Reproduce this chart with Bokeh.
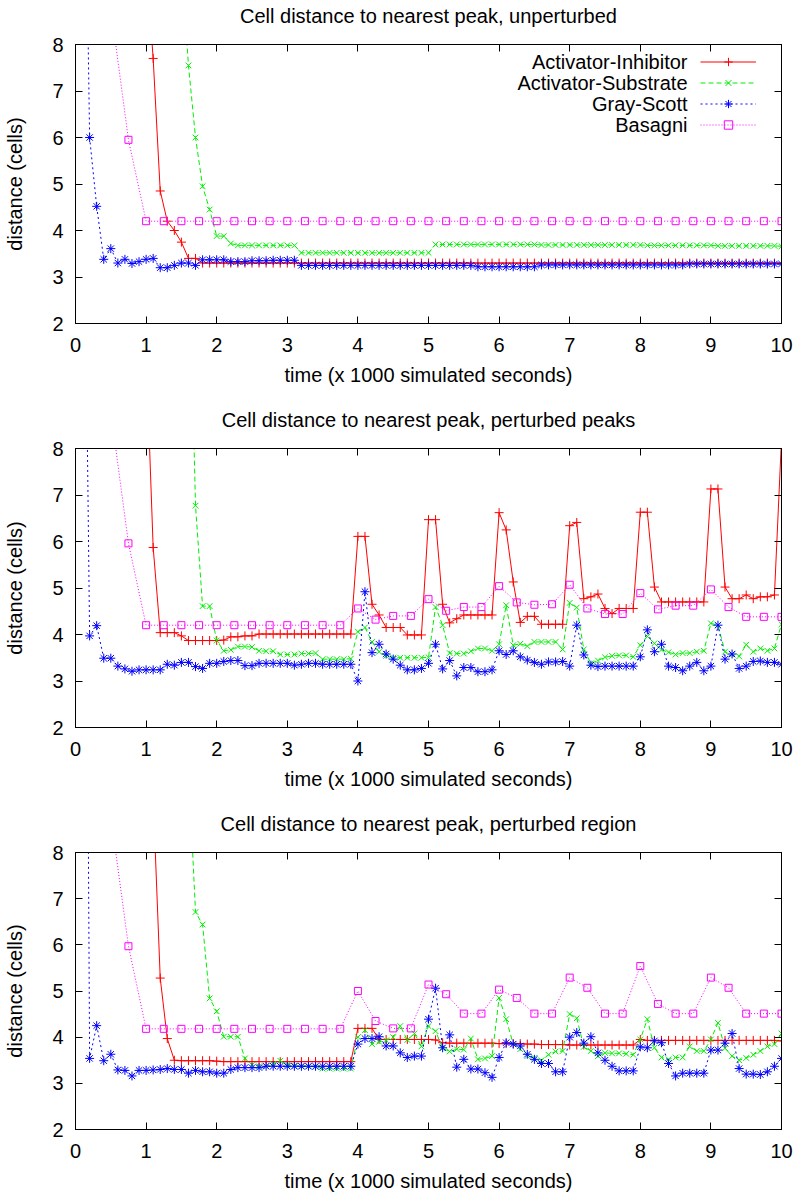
from bokeh.plotting import figure
from bokeh.models import Range1d, LinearAxis, FixedTicker, Legend, LegendItem, Label
from bokeh.layouts import column
from bokeh.embed import file_html
from bokeh.resources import INLINE

nan = float("nan")

# sampling grids (time in units of 1000 simulated seconds)
t_fine = [i / 10 for i in range(101)]     # 0.0 .. 10.0 step 0.1
t_coarse = [i / 4 for i in range(41)]     # 0.0 .. 10.0 step 0.25

series_names = ["Activator-Inhibitor", "Activator-Substrate", "Gray-Scott", "Basagni"]
panel_titles = [
    "Cell distance to nearest peak, unperturbed",
    "Cell distance to nearest peak, perturbed peaks",
    "Cell distance to nearest peak, perturbed region",
]
x_label = "time (x 1000 simulated seconds)"
y_label = "distance (cells)"
x_ticks = [0, 1, 2, 3, 4, 5, 6, 7, 8, 9, 10]
y_ticks = [2, 3, 4, 5, 6, 7, 8]

# ---------------- panel 1: unperturbed ----------------
ai_unperturbed = [
    nan, nan, nan, nan, nan, nan, nan, nan, nan, nan,
    9.8, 7.70, 4.85, 4.20, 4.00, 3.75, 3.40, 3.40, 3.30, 3.30,
    3.30, 3.30, 3.30, 3.30, 3.30, 3.30, 3.30, 3.30, 3.30, 3.30,
    3.30, 3.30, 3.30, 3.30, 3.30, 3.30, 3.30, 3.30, 3.30, 3.30,
    3.30, 3.30, 3.30, 3.30, 3.30, 3.30, 3.30, 3.30, 3.30, 3.30,
    3.30, 3.30, 3.30, 3.30, 3.30, 3.30, 3.30, 3.30, 3.30, 3.30,
    3.30, 3.30, 3.30, 3.30, 3.30, 3.30, 3.30, 3.30, 3.30, 3.30,
    3.30, 3.30, 3.30, 3.30, 3.30, 3.30, 3.30, 3.30, 3.30, 3.30,
    3.30, 3.30, 3.30, 3.30, 3.30, 3.30, 3.30, 3.30, 3.30, 3.30,
    3.30, 3.30, 3.30, 3.30, 3.30, 3.30, 3.30, 3.30, 3.30, 3.30,
    3.30,
]
as_unperturbed = [
    nan, nan, nan, nan, nan, nan, nan, nan, nan, nan,
    nan, nan, nan, nan, nan, 9.8, 7.55, 6.00, 4.95, 4.45,
    3.88, 3.88, 3.72, 3.68, 3.68, 3.68, 3.68, 3.68, 3.68, 3.68,
    3.68, 3.68, 3.52, 3.52, 3.52, 3.52, 3.52, 3.52, 3.52, 3.52,
    3.52, 3.52, 3.52, 3.52, 3.52, 3.52, 3.52, 3.52, 3.52, 3.52,
    3.52, 3.70, 3.70, 3.70, 3.70, 3.70, 3.70, 3.70, 3.70, 3.70,
    3.70, 3.70, 3.70, 3.70, 3.70, 3.70, 3.69, 3.69, 3.69, 3.69,
    3.69, 3.69, 3.69, 3.69, 3.69, 3.69, 3.69, 3.69, 3.69, 3.69,
    3.69, 3.68, 3.68, 3.68, 3.68, 3.68, 3.68, 3.68, 3.68, 3.68,
    3.68, 3.67, 3.67, 3.67, 3.67, 3.67, 3.67, 3.67, 3.67, 3.67,
    3.66,
]
gs_unperturbed = [
    nan, 16.0, 6.00, 4.52, 3.38, 3.61, 3.30, 3.38, 3.29, 3.33,
    3.38, 3.40, 3.20, 3.20, 3.25, 3.30, 3.30, 3.25, 3.37, 3.37,
    3.37, 3.37, 3.33, 3.33, 3.33, 3.35, 3.35, 3.35, 3.36, 3.36,
    3.36, 3.36, 3.25, 3.25, 3.25, 3.25, 3.25, 3.25, 3.25, 3.25,
    3.25, 3.25, 3.25, 3.25, 3.25, 3.25, 3.25, 3.25, 3.25, 3.25,
    3.25, 3.25, 3.25, 3.25, 3.25, 3.25, 3.25, 3.22, 3.22, 3.22,
    3.22, 3.22, 3.22, 3.22, 3.22, 3.22, 3.26, 3.26, 3.26, 3.26,
    3.26, 3.26, 3.26, 3.26, 3.26, 3.26, 3.26, 3.26, 3.26, 3.26,
    3.26, 3.26, 3.26, 3.26, 3.26, 3.26, 3.26, 3.28, 3.28, 3.28,
    3.28, 3.28, 3.28, 3.28, 3.28, 3.28, 3.28, 3.28, 3.28, 3.28,
    3.28,
]
ba_unperturbed = [
    nan, nan, 8.80, 5.95,
    4.20, 4.20, 4.20, 4.20, 4.20, 4.20, 4.20, 4.20, 4.20, 4.20, 4.20, 4.20,
    4.20, 4.20, 4.20, 4.20, 4.20, 4.20, 4.20, 4.20, 4.20, 4.20, 4.20, 4.20,
    4.20, 4.20, 4.20, 4.20, 4.20, 4.20, 4.20, 4.20, 4.20, 4.20, 4.20, 4.20,
    4.20,
]

# ---------------- panel 2: perturbed peaks ----------------
ai_peaks = [
    nan, nan, nan, nan, nan, nan, nan, nan, nan, nan,
    10.1, 5.87, 4.04, 4.04, 4.04, 3.97, 3.87, 3.87, 3.87, 3.87,
    3.87, 3.88, 3.95, 3.95, 3.97, 3.97, 4.01, 4.01, 4.01, 4.01,
    4.01, 4.01, 4.01, 4.01, 4.01, 4.01, 4.01, 4.01, 4.01, 4.01,
    6.11, 6.11, 4.65, 4.42, 4.15, 4.15, 4.15, 3.99, 3.99, 3.99,
    6.47, 6.47, 4.65, 4.25, 4.34, 4.42, 4.42, 4.42, 4.42, 4.42,
    6.62, 6.25, 5.13, 4.26, 4.39, 4.39, 4.22, 4.22, 4.22, 4.22,
    6.34, 6.41, 4.77, 4.81, 4.87, 4.56, 4.45, 4.56, 4.56, 4.56,
    6.63, 6.63, 5.02, 4.70, 4.70, 4.70, 4.70, 4.70, 4.70, 4.70,
    7.13, 7.13, 5.02, 4.77, 4.77, 4.85, 4.77, 4.81, 4.81, 4.85,
    8.20,
]
as_peaks = [
    nan, nan, nan, nan, nan, nan, nan, nan, nan, nan,
    nan, nan, nan, nan, nan, nan, 12.9, 6.77, 4.61, 4.61,
    3.87, 3.65, 3.67, 3.74, 3.74, 3.73, 3.65, 3.64, 3.64, 3.57,
    3.57, 3.57, 3.59, 3.59, 3.60, 3.47, 3.47, 3.47, 3.47, 3.48,
    4.06, 4.15, 3.84, 3.63, 3.54, 3.50, 3.50, 3.50, 3.50, 3.50,
    3.51, 4.59, 4.20, 3.60, 3.59, 3.59, 3.64, 3.70, 3.70, 3.65,
    3.79, 4.63, 3.77, 3.80, 3.75, 3.84, 3.84, 3.84, 3.84, 3.68,
    4.68, 4.58, 3.68, 3.38, 3.44, 3.51, 3.54, 3.55, 3.55, 3.52,
    3.77, 3.96, 3.81, 3.67, 3.62, 3.57, 3.60, 3.60, 3.63, 3.65,
    4.24, 4.20, 3.63, 3.57, 3.53, 3.78, 3.63, 3.70, 3.65, 3.70,
    4.22,
]
gs_peaks = [
    nan, 17.0, 3.97, 4.19, 3.49, 3.49, 3.32, 3.26, 3.21, 3.24,
    3.24, 3.24, 3.24, 3.36, 3.34, 3.40, 3.40, 3.31, 3.27, 3.38,
    3.38, 3.42, 3.44, 3.44, 3.33, 3.33, 3.38, 3.38, 3.38, 3.38,
    3.38, 3.34, 3.36, 3.38, 3.38, 3.36, 3.36, 3.36, 3.36, 3.36,
    3.00, 4.92, 3.61, 3.79, 3.58, 3.47, 3.34, 3.24, 3.24, 3.27,
    3.38, 3.79, 3.26, 3.44, 3.11, 3.29, 3.29, 3.20, 3.20, 3.24,
    3.65, 3.57, 3.65, 3.52, 3.45, 3.40, 3.36, 3.41, 3.41, 3.42,
    3.32, 4.20, 3.56, 3.34, 3.31, 3.32, 3.32, 3.32, 3.32, 3.32,
    3.52, 4.10, 3.63, 3.79, 3.32, 3.29, 3.22, 3.32, 3.40, 3.22,
    3.32, 4.20, 3.47, 3.58, 3.27, 3.32, 3.42, 3.43, 3.40, 3.40,
    3.36,
]
ba_peaks = [
    nan, nan, 8.80, 5.96,
    4.20, 4.20, 4.20, 4.20, 4.20, 4.20, 4.20, 4.20, 4.20, 4.20, 4.20, 4.20,
    4.56, 4.32, 4.40, 4.40, 4.76, 4.51, 4.59, 4.59, 5.04, 4.69, 4.64, 4.65,
    5.07, 4.56, 4.44, 4.44, 4.89, 4.54, 4.62, 4.62, 4.97, 4.59, 4.38, 4.38,
    4.38,
]

# ---------------- panel 3: perturbed region ----------------
ai_region = [
    nan, nan, nan, nan, nan, nan, nan, nan, nan, nan,
    nan, 9.20, 5.28, 3.97, 3.50, 3.49, 3.49, 3.49, 3.49, 3.49,
    3.48, 3.47, 3.47, 3.47, 3.47, 3.47, 3.47, 3.47, 3.47, 3.47,
    3.47, 3.47, 3.47, 3.47, 3.47, 3.47, 3.47, 3.47, 3.47, 3.47,
    4.19, 4.19, 4.19, 3.95, 3.95, 3.95, 3.95, 3.95, 3.95, 3.95,
    3.95, 3.94, 3.88, 3.87, 3.87, 3.87, 3.87, 3.87, 3.87, 3.87,
    3.86, 3.86, 3.86, 3.86, 3.85, 3.85, 3.84, 3.84, 3.84, 3.84,
    3.83, 3.83, 3.83, 3.83, 3.83, 3.83, 3.83, 3.83, 3.83, 3.83,
    3.95, 3.93, 3.93, 3.93, 3.93, 3.93, 3.93, 3.93, 3.93, 3.93,
    3.93, 3.93, 3.93, 3.93, 3.93, 3.93, 3.93, 3.93, 3.93, 3.93,
    3.92,
]
as_region = [
    nan, nan, nan, nan, nan, nan, nan, nan, nan, nan,
    nan, nan, nan, nan, nan, nan, 9.90, 6.71, 6.44, 4.84,
    4.56, 4.01, 4.01, 4.01, 3.54, 3.40, 3.37, 3.37, 3.42, 3.49,
    3.40, 3.38, 3.37, 3.37, 3.36, 3.32, 3.32, 3.32, 3.32, 3.32,
    4.00, 4.15, 3.85, 3.90, 3.93, 4.00, 4.24, 3.94, 4.08, 3.80,
    4.24, 4.13, 3.76, 3.69, 3.74, 3.73, 3.97, 3.52, 3.54, 3.59,
    4.85, 4.39, 3.85, 3.74, 3.59, 3.55, 3.50, 3.62, 3.69, 3.70,
    4.50, 4.41, 3.79, 3.70, 3.59, 3.66, 3.65, 3.65, 3.64, 3.62,
    3.95, 4.39, 3.77, 3.56, 3.52, 3.56, 3.56, 3.80, 3.70, 3.70,
    3.95, 4.31, 3.76, 3.59, 3.50, 3.55, 3.62, 3.70, 3.80, 3.85,
    4.08,
]
gs_region = [
    nan, 30.0, 3.54, 4.25, 3.49, 3.63, 3.29, 3.28, 3.16, 3.28,
    3.28, 3.29, 3.30, 3.32, 3.30, 3.30, 3.22, 3.28, 3.25, 3.25,
    3.22, 3.22, 3.30, 3.34, 3.34, 3.34, 3.34, 3.37, 3.37, 3.37,
    3.37, 3.37, 3.37, 3.37, 3.37, 3.37, 3.37, 3.37, 3.37, 3.37,
    3.85, 3.97, 3.97, 4.01, 3.81, 3.81, 3.66, 3.56, 3.59, 3.59,
    4.39, 5.06, 3.77, 4.05, 3.35, 3.52, 3.31, 3.31, 3.23, 3.13,
    3.56, 3.88, 3.85, 3.81, 3.63, 3.52, 3.43, 3.43, 3.25, 3.25,
    4.00, 4.10, 3.87, 4.01, 3.66, 3.50, 3.37, 3.27, 3.27, 3.27,
    3.79, 3.77, 3.92, 3.88, 3.43, 3.16, 3.22, 3.22, 3.22, 3.22,
    3.72, 3.72, 3.87, 4.08, 3.32, 3.20, 3.20, 3.19, 3.25, 3.37,
    3.54,
]
ba_region = [
    nan, nan, 8.80, 5.97,
    4.18, 4.18, 4.18, 4.18, 4.18, 4.18, 4.18, 4.18, 4.18, 4.18, 4.18, 4.18,
    5.00, 4.35, 4.19, 4.19, 5.14, 4.93, 4.51, 4.51, 5.03, 4.85, 4.51, 4.51,
    5.29, 5.07, 4.51, 4.51, 5.54, 4.72, 4.51, 4.51, 5.29, 5.07, 4.51, 4.51,
    4.51,
]

panels = [
    [ai_unperturbed, as_unperturbed, gs_unperturbed, ba_unperturbed],
    [ai_peaks, as_peaks, gs_peaks, ba_peaks],
    [ai_region, as_region, gs_region, ba_region],
]
x_grids = [t_fine, t_fine, t_fine, t_coarse]

styles = [
    dict(color="#ff0000", dash="solid", marker="cross", size=9),
    dict(color="#00ee00", dash="5 3", marker="x", size=8),
    dict(color="#0000ff", dash="2 3", marker="asterisk", size=9),
    dict(color="#ff00ff", dash="1 2", marker="square", size=7),
]

FONT = "Liberation Sans"
FS = "20px"


def style_axis(ax, ticks, show_labels):
    ax.ticker = FixedTicker(ticks=ticks)
    ax.major_tick_in = 7
    ax.major_tick_out = 0
    ax.minor_tick_line_color = None
    ax.major_tick_line_color = "black"
    ax.axis_line_color = "black"
    ax.major_label_text_font = FONT
    ax.major_label_text_color = "black"
    if show_labels:
        ax.major_label_text_font_size = FS
    else:
        ax.major_label_text_font_size = "0px"
        ax.major_label_text_color = None
        ax.major_label_standoff = 0
    ax.axis_label_text_font = FONT
    ax.axis_label_text_font_size = FS
    ax.axis_label_text_font_style = "normal"
    ax.axis_label_text_color = "black"


layout_spec = [(402, 44, 79), (404, 46, 79), (388, 46, 63)]

# legend geometry (screen pixels, relative to the frame's bottom-left corner)
LEG_X, LEG_Y, LEG_ROW, LEG_GLYPH_W = 625, 188, 21, 56
LEG_TEXT_GAP = 13

figs = []
for k, (title, data) in enumerate(zip(panel_titles, panels)):
    h, top, bottom = layout_spec[k]
    p = figure(width=797, height=h, output_backend="svg", toolbar_location=None,
               x_range=Range1d(0, 10), y_range=Range1d(2, 8),
               min_border_left=75, min_border_right=16,
               min_border_top=top, min_border_bottom=bottom)
    p.grid.visible = False
    p.outline_line_color = "black"
    p.outline_line_alpha = 1.0
    p.background_fill_color = "white"
    p.border_fill_color = "white"

    p.xaxis.axis_label = x_label
    p.yaxis.axis_label = y_label
    for ax in p.xaxis:
        style_axis(ax, x_ticks, True)
        ax.major_label_standoff = 14
        ax.axis_label_standoff = 9
    for ax in p.yaxis:
        style_axis(ax, y_ticks, True)
        ax.major_label_standoff = 12
        ax.axis_label_standoff = 23

    # mirrored top axis (inward ticks) carrying the panel title, gnuplot style
    top_ax = LinearAxis(axis_label=title)
    style_axis(top_ax, x_ticks, False)
    top_ax.axis_label_standoff = 18
    p.add_layout(top_ax, "above")
    right_ax = LinearAxis()
    style_axis(right_ax, y_ticks, False)
    p.add_layout(right_ax, "right")

    items = []
    for name, xs, ys, st in zip(series_names, x_grids, data, styles):
        lr = p.line(xs, ys, line_color=st["color"], line_width=1, line_dash=st["dash"])
        sr = p.scatter(xs, ys, marker=st["marker"], size=st["size"],
                       line_color=st["color"], fill_color=None, line_width=1)
        items.append(LegendItem(label=" ", renderers=[lr, sr]))

    if k == 0:
        # gnuplot-style key: samples on the right, right-aligned names on the left
        legend = Legend(items=items, location=(LEG_X, LEG_Y),
                        orientation="vertical",
                        background_fill_alpha=0, border_line_color=None,
                        label_text_font=FONT, label_text_font_size="1px",
                        label_standoff=0, label_height=1, label_width=1,
                        glyph_width=LEG_GLYPH_W, glyph_height=LEG_ROW,
                        spacing=0, padding=0, margin=0)
        p.add_layout(legend)
        top_y = LEG_Y + LEG_ROW * len(series_names)
        for i, name in enumerate(series_names):
            p.add_layout(Label(x=LEG_X - LEG_TEXT_GAP, y=top_y - LEG_ROW / 2 - LEG_ROW * i,
                               x_units="screen", y_units="screen", text=name,
                               text_align="right", text_baseline="middle",
                               text_font=FONT, text_font_size=FS, text_color="black"))
    figs.append(p)

layout = column(*figs, spacing=0)
open("out.html", "w").write(file_html(layout, INLINE))
